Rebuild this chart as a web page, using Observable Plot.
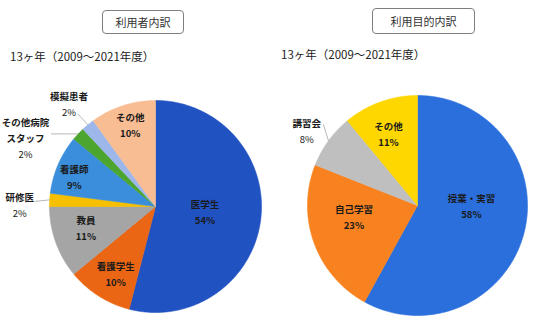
<!DOCTYPE html>
<html><head><meta charset="utf-8">
<script src="https://cdn.jsdelivr.net/npm/d3@7"></script>
<script src="https://cdn.jsdelivr.net/npm/@observablehq/plot@0.6"></script>
<style>
body{margin:0;background:#fff;}
#wrap{position:relative;width:545px;height:323px;font-family:"Noto Sans CJK JP","Noto Sans",sans-serif;}
#chart{position:absolute;left:0;top:0;}
.box{position:absolute;border:1px solid #7f7f7f;border-radius:4px;font-size:11px;color:#333;box-sizing:border-box;display:flex;align-items:center;justify-content:center;background:#fff;}
.sub{position:absolute;font-size:11.5px;color:#222;white-space:nowrap;line-height:1;}
</style></head><body>
<div id="wrap">
  <div id="chart"></div>
  <div class="box" style="left:102px;top:10px;width:82px;height:24px;">利用者内訳</div>
  <div class="box" style="left:372px;top:8px;width:103px;height:26px;">利用目的内訳</div>
  <div class="sub" style="left:10px;top:51px;">13ヶ年（2009～2021年度）</div>
  <div class="sub" style="left:281px;top:49px;">13ヶ年（2009～2021年度）</div>
</div>
<script>
// ---- data ----
const userCategories = ["医学生", "看護学生", "教員", "研修医", "看護師", "その他病院スタッフ", "模擬患者", "その他"];
const userShares = [54, 10, 11, 2, 9, 2, 2, 10];
const purposeCategories = ["授業・実習", "自己学習", "講習会", "その他"];
const purposeShares = [58, 23, 8, 11];

// ---- styles ----
const userColors = ["#2152c1", "#ea6614", "#a5a5a5", "#f6bf00", "#3b8edb", "#4ca52f", "#9db7eb", "#f9bd94"];
const purposeColors = ["#2b6fdc", "#f8821f", "#bfbfbf", "#ffd700"];

// ---- layout (pie centre / radius, label placement as [angle deg, radius factor]) ----
const userPie = {cx: 155, cy: 206, r: 106};
const purposePie = {cx: 417, cy: 205, r: 110};
const userLabelPlace = [[96.9, 0.47], [210.1, 0.75], [252.1, 0.69], [270.4, 1.28], [289.1, 0.81], [297.3, 1.38], [319.7, 1.26], [342.7, 0.80]];
const userLeader = [null, null, null, [272.4, 1.14], null, [304.8, 1.2], [320, 1.145], null];
const userLabelBreak = {"その他病院スタッフ": ["その他病院", "スタッフ"]};
const purposeLabelPlace = [[91.6, 0.49], [258.5, 0.59], [303.7, 1.21], [337.5, 0.69]];
const purposeLeader = [null, null, [310.8, 1.13], null];
const lineGap = 16;

const wedges = [], texts = [], leaders = [];
function polar(p, deg, k) {
  const a = deg * Math.PI / 180;
  return {x: p.cx + p.r * k * Math.sin(a), y: p.cy - p.r * k * Math.cos(a)};
}
function build(cats, shares, colors, p, place, lead) {
  const arcs = d3.pie().sort(null).value(d => d)(shares);
  arcs.forEach((arc, i) => {
    const pts = [{x: p.cx, y: p.cy}];
    const n = Math.max(2, Math.ceil((arc.endAngle - arc.startAngle) / (Math.PI / 360)));
    for (let j = 0; j <= n; j++) {
      const a = arc.startAngle + (arc.endAngle - arc.startAngle) * j / n;
      pts.push({x: p.cx + p.r * Math.sin(a), y: p.cy - p.r * Math.cos(a)});
    }
    pts.push({x: p.cx, y: p.cy});
    wedges.push({pts, color: colors[i]});
    const outside = lead[i] != null;
    const names = userLabelBreak[cats[i]] || [cats[i]];
    const lines = [...names.map(t => ({t, w: "bold"})), {t: shares[i] + "%", w: outside ? "normal" : "bold"}];
    const c = polar(p, place[i][0], place[i][1]);
    lines.forEach((l, j) => texts.push({x: c.x, y: c.y + (j - (lines.length - 1) / 2) * lineGap, text: l.t, weight: l.w}));
    if (outside) {
      const mid = (arc.startAngle + arc.endAngle) / 2 * 180 / Math.PI;
      const s = polar(p, mid, 1.0), e = polar(p, lead[i][0], lead[i][1]);
      leaders.push({x1: s.x, y1: s.y, x2: e.x, y2: e.y});
    }
  });
}
build(userCategories, userShares, userColors, userPie, userLabelPlace, userLeader);
build(purposeCategories, purposeShares, purposeColors, purposePie, purposeLabelPlace, purposeLeader);

const chart = Plot.plot({
  width: 545, height: 323, margin: 0,
  x: {domain: [0, 545], range: [0, 545], axis: null},
  y: {domain: [0, 323], range: [0, 323], axis: null},
  style: {fontFamily: '"Noto Sans CJK JP","Noto Sans",sans-serif', background: "transparent"},
  marks: [
    ...wedges.map(w => Plot.line(w.pts, {x: "x", y: "y", fill: w.color, stroke: w.color, strokeWidth: 0.6, curve: "linear"})),
    Plot.link(leaders, {x1: "x1", y1: "y1", x2: "x2", y2: "y2", stroke: "#a6a6a6", strokeWidth: 0.8}),
    Plot.text(texts.filter(t => t.weight === "bold"), {x: "x", y: "y", text: "text", fontSize: 9.5, fontWeight: "bold", fill: "#1a1a1a"}),
    Plot.text(texts.filter(t => t.weight !== "bold"), {x: "x", y: "y", text: "text", fontSize: 9.5, fill: "#1a1a1a"})
  ]
});
document.getElementById("chart").appendChild(chart);
</script>
</body></html>
